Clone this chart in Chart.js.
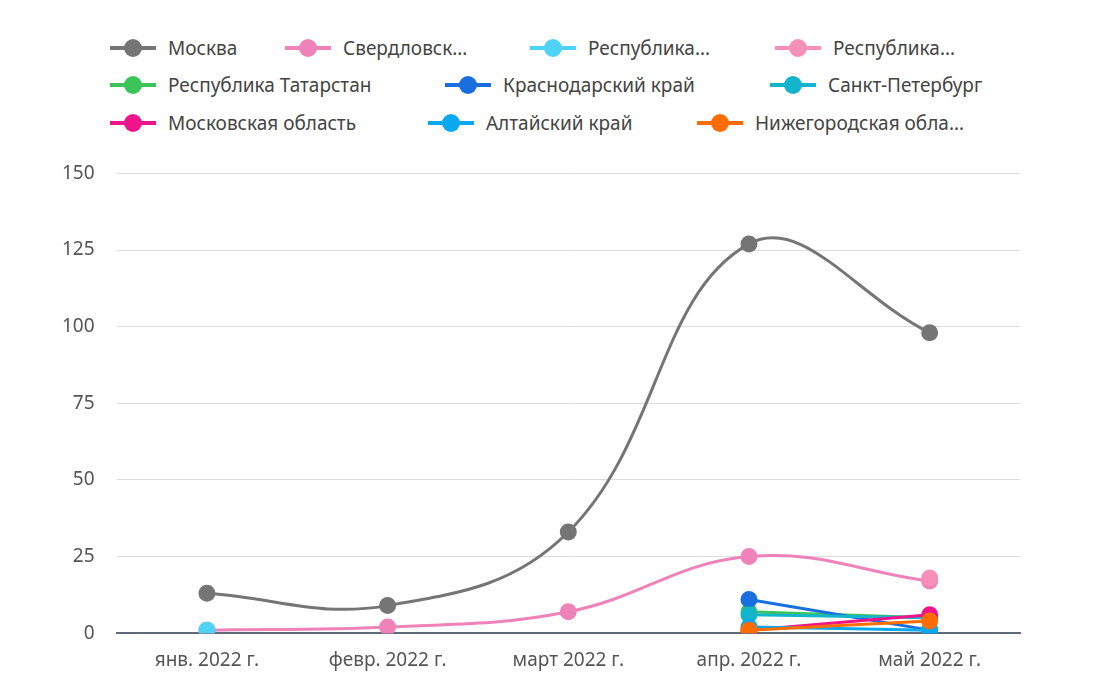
<!DOCTYPE html>
<html><head><meta charset="utf-8">
<script src="https://cdn.jsdelivr.net/npm/chart.js@4"></script>
<style>
body{margin:0;background:#fff;font-family:"Noto Sans",sans-serif;}
#legend{position:absolute;left:0;top:0;width:1110px;height:140px;font-size:19px;color:#444;}
#legend .it{position:absolute;display:flex;align-items:center;white-space:nowrap;}
#legend .m{position:relative;flex-shrink:0;width:46px;height:20px;margin-right:12px;}
#legend .m i{position:absolute;left:0;right:0;top:8px;height:4px;}
#legend .m b{position:absolute;left:14px;top:1px;width:18px;height:18px;border-radius:50%;}
#wrap{position:absolute;left:0;top:140px;width:1040px;height:540px;}
</style></head><body>
<div id="legend"></div>
<div id="wrap"><canvas id="c"></canvas></div>
<script>
"use strict";
const labels = ["янв. 2022 г.", "февр. 2022 г.", "март 2022 г.", "апр. 2022 г.", "май 2022 г."];
const names = ["Москва", "Свердловск…", "Республика…", "Республика…", "Республика Татарстан", "Краснодарский край", "Санкт-Петербург", "Московская область", "Алтайский край", "Нижегородская обла…"];
const colors = ["#757575", "#ee82b9", "#4fd3f5", "#f78fb8", "#3cc45a", "#1a6fe0", "#12b5cb", "#f0148c", "#0aa8ee", "#ff6d00"];
const moscow = [13, 9, 33, 127, 98];
const sverdl = [1, 2, 7, 25, 17];
const resp1 = [1, null, null, null, null];
const resp2 = [null, null, null, null, 18];
const tatar = [null, null, null, 7, 5];
const krasn = [null, null, null, 11, 1];
const spb = [null, null, null, 6, 5];
const mosobl = [null, null, null, 1, 6];
const altai = [null, null, null, 2, 1];
const nizh = [null, null, null, 1, 4];
const series = [moscow, sverdl, resp1, resp2, tatar, krasn, spb, mosobl, altai, nizh];

// legend item positions [left, top]
const legPos = [[110,35],[285,35],[530,35],[775,35],[110,72],[445,72],[770,72],[110,110],[428,110],[697,110]];
const leg = document.getElementById("legend");
names.forEach((n, i) => {
  const d = document.createElement("div");
  d.className = "it";
  d.style.left = legPos[i][0] + "px";
  d.style.top = legPos[i][1] + "px";
  d.innerHTML = '<span class="m"><i style="background:' + colors[i] + '"></i><b style="background:' + colors[i] + '"></b></span>' + n;
  leg.appendChild(d);
});

const datasets = series.map((s, i) => ({
  label: names[i],
  data: s,
  borderColor: colors[i],
  backgroundColor: colors[i],
  pointBackgroundColor: colors[i],
  pointRadius: 7,
  borderWidth: 3,
  tension: 0.4,
  fill: false,
}));

new Chart(document.getElementById("c"), {
  type: "line",
  data: { labels: labels, datasets: datasets.slice().reverse() },
  options: {
    responsive: true,
    maintainAspectRatio: false,
    animation: false,
    layout: { padding: { top: 20, right: 20, left: 40 } },
    plugins: { legend: { display: false }, tooltip: { enabled: false } },
    scales: {
      x: {
        offset: true,
        grid: { display: false },
        border: { color: "#5f6b7a", width: 2 },
        ticks: { color: "#555", font: { size: 19, family: "Noto Sans" }, padding: 8 },
      },
      y: {
        min: 0, max: 150,
        ticks: { stepSize: 25, color: "#555", font: { size: 19, family: "Noto Sans" }, padding: 22 },
        grid: { color: "#dddddd", drawTicks: false },
        border: { display: false },
      },
    },
  },
});
</script>
</body></html>
